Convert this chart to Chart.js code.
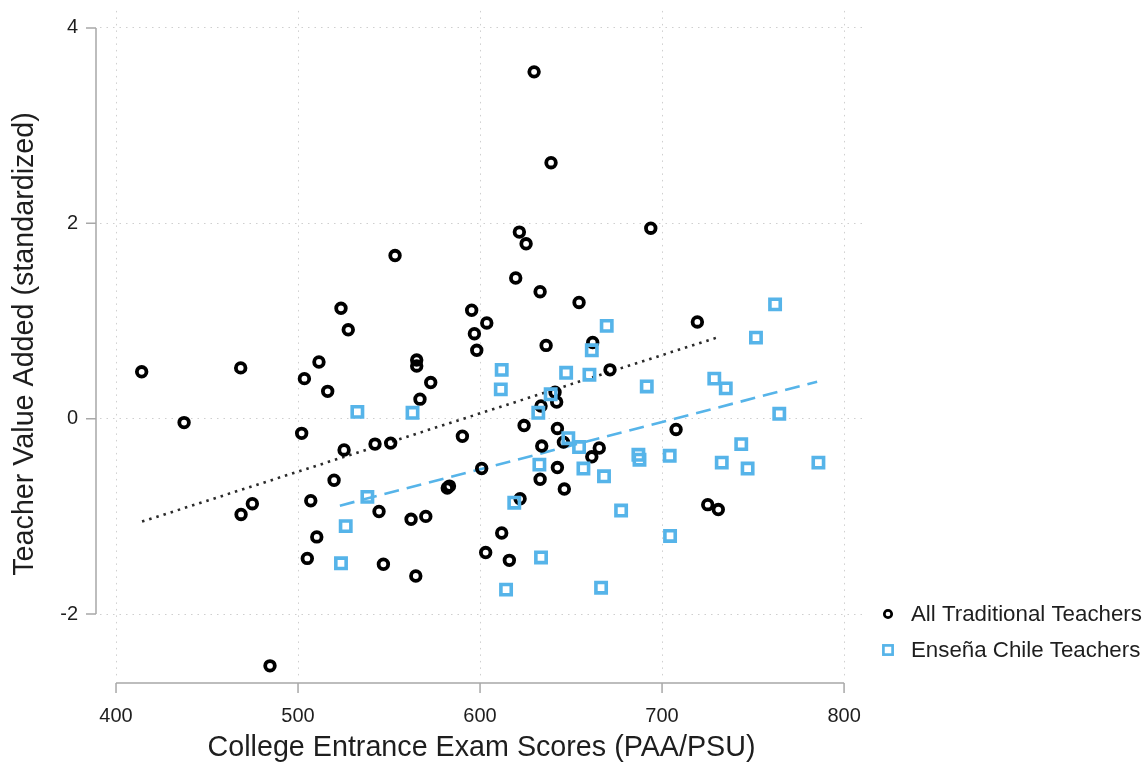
<!DOCTYPE html>
<html>
<head>
<meta charset="utf-8">
<script src="https://cdn.jsdelivr.net/npm/chart.js@4/dist/chart.umd.min.js"></script>
<style>
  html, body { margin: 0; padding: 0; background: #fff; }
  #wrap { position: relative; width: 1148px; height: 767px; }
</style>
</head>
<body>
<div id="wrap"><canvas id="c" width="1148" height="767"></canvas></div>
<script>
// Exam score (x) and standardized value added (y) per teacher
const traditionalX = [414.1, 437.4, 468.5, 468.7, 474.9, 484.6, 502.0, 503.5, 505.1, 507.0,
  510.3, 511.5, 516.3, 519.8, 523.6, 525.3, 527.6, 542.3, 544.5, 546.9,
  550.9, 553.3, 562.1, 565.2, 565.2, 564.7, 567.0, 570.2, 572.9, 582.0,
  583.2, 590.3, 595.4, 596.9, 598.2, 600.9, 603.1, 603.7, 611.9, 616.1,
  619.6, 621.6, 622.0, 624.2, 625.3, 629.7, 633.0, 633.0, 633.9, 633.5,
  636.3, 639.0, 641.2, 642.1, 642.5, 642.5, 645.8, 646.3, 654.4, 661.4,
  661.9, 665.5, 671.4, 693.8, 707.7, 719.4, 725.1, 730.9];
const traditionalY = [0.48, -0.04, 0.52, -0.98, -0.87, -2.53, -0.15, 0.41, -1.43, -0.84,
  -1.21, 0.58, 0.28, -0.63, 1.13, -0.32, 0.91, -0.26, -0.95, -1.49,
  -0.25, 1.67, -1.03, 0.60, 0.54, -1.61, 0.20, -1.00, 0.37, -0.71,
  -0.69, -0.18, 1.11, 0.87, 0.70, -0.51, -1.37, 0.98, -1.17, -1.45,
  1.44, 1.91, -0.82, -0.07, 1.79, 3.55, -0.62, 1.30, -0.28, 0.13,
  0.75, 2.62, 0.27, 0.17, -0.10, -0.50, -0.24, -0.72, 1.19, -0.39,
  0.78, -0.30, 0.50, 1.95, -0.11, 0.99, -0.88, -0.93];

const enseniaX = [611.9, 611.4, 669.6, 661.4, 647.3, 660.1, 638.8, 632.0, 691.6, 728.7,
  735.0, 751.6, 762.1, 764.4, 648.5, 654.4, 743.5, 785.9, 687.0, 687.6,
  704.2, 632.6, 656.8, 668.1, 732.8, 747.0, 618.8, 677.5, 704.4, 633.5,
  614.3, 666.5, 538.1, 526.2, 523.6, 532.6, 562.9];
const enseniaY = [0.50, 0.30, 0.95, 0.70, 0.47, 0.45, 0.25, 0.06, 0.33, 0.41,
  0.31, 0.83, 1.17, 0.05, -0.20, -0.29, -0.26, -0.45, -0.37, -0.42,
  -0.38, -0.47, -0.51, -0.59, -0.45, -0.51, -0.86, -0.94, -1.20, -1.42,
  -1.75, -1.73, -0.80, -1.10, -1.48, 0.07, 0.06];

// Linear fit endpoints for each group
const traditionalFitX = [414.3, 729.7];
const traditionalFitY = [-1.053, 0.828];
const enseniaFitX = [523.0, 785.2];
const enseniaFitY = [-0.89, 0.378];

const xTicks = [400, 500, 600, 700, 800];
const yTicks = [-2, 0, 2, 4];

const seriesNames = ['All Traditional Teachers', 'Enseña Chile Teachers'];
const xTitle = 'College Entrance Exam Scores (PAA/PSU)';
const yTitle = 'Teacher Value Added (standardized)';

const BLUE = '#56b4e9';
const INK = '#1e1e1e';
const FONT = '"Liberation Sans", Arial, sans-serif';

const zip = (xs, ys) => xs.map((x, i) => ({ x: x, y: ys[i] }));

// Range axes (only spanning the tick range) plus the side legend
const frame = {
  id: 'frame',
  afterDraw(chart) {
    const ctx = chart.ctx;
    const xs = chart.scales.x, ys = chart.scales.y;
    ctx.save();
    ctx.strokeStyle = '#a8a8a8';
    ctx.lineWidth = 1.5;
    ctx.setLineDash([]);
    // y axis
    const ax = 96;
    ctx.beginPath();
    ctx.moveTo(ax, ys.getPixelForValue(yTicks[yTicks.length - 1]));
    ctx.lineTo(ax, ys.getPixelForValue(yTicks[0]));
    yTicks.forEach(v => {
      const p = ys.getPixelForValue(v);
      ctx.moveTo(ax - 10, p);
      ctx.lineTo(ax, p);
    });
    ctx.stroke();
    // x axis
    const ay = 683;
    ctx.beginPath();
    ctx.moveTo(xs.getPixelForValue(xTicks[0]), ay);
    ctx.lineTo(xs.getPixelForValue(xTicks[xTicks.length - 1]), ay);
    xTicks.forEach(v => {
      const p = xs.getPixelForValue(v);
      ctx.moveTo(p, ay);
      ctx.lineTo(p, ay + 10);
    });
    ctx.stroke();

    // legend
    const lx = 888;
    const rows = [614, 650];
    ctx.lineWidth = 2.7;
    ctx.strokeStyle = '#000';
    ctx.beginPath();
    ctx.arc(lx, rows[0], 3.7, 0, Math.PI * 2);
    ctx.stroke();
    ctx.strokeStyle = BLUE;
    ctx.strokeRect(lx - 4.6, rows[1] - 4.6, 9.2, 9.2);
    ctx.fillStyle = INK;
    ctx.font = '22.3px ' + FONT;
    ctx.textBaseline = 'middle';
    ctx.textAlign = 'left';
    seriesNames.forEach((name, i) => ctx.fillText(name, 911, rows[i] + 1));
    ctx.restore();
  }
};

new Chart(document.getElementById('c'), {
  type: 'scatter',
  data: {
    datasets: [
      {
        label: seriesNames[0] + ' fit',
        type: 'line',
        data: zip(traditionalFitX, traditionalFitY),
        borderColor: '#2a2a2a',
        borderWidth: 2.6,
        borderDash: [2.5, 5],
        pointRadius: 0,
        fill: false,
        order: 3
      },
      {
        label: seriesNames[1] + ' fit',
        type: 'line',
        data: zip(enseniaFitX, enseniaFitY),
        borderColor: BLUE,
        borderWidth: 2.6,
        borderDash: [15, 8],
        pointRadius: 0,
        fill: false,
        order: 3
      },
      {
        label: seriesNames[0],
        data: zip(traditionalX, traditionalY),
        pointStyle: 'circle',
        pointRadius: 4.8,
        borderWidth: 3.8,
        borderColor: '#000',
        backgroundColor: 'rgba(255,255,255,0)',
        order: 2
      },
      {
        label: seriesNames[1],
        data: zip(enseniaX, enseniaY),
        pointStyle: 'rect',
        pointRadius: 7.3,
        borderWidth: 3.6,
        borderColor: BLUE,
        backgroundColor: 'rgba(255,255,255,0)',
        order: 1
      }
    ]
  },
  options: {
    responsive: false,
    animation: false,
    events: [],
    layout: { padding: { left: 0, right: 285, top: 10, bottom: 0 } },
    plugins: { legend: { display: false }, tooltip: { enabled: false } },
    scales: {
      x: {
        type: 'linear',
        min: 391.2,
        max: 810.4,
        afterBuildTicks: s => { s.ticks = xTicks.map(v => ({ value: v })); },
        afterFit: s => { s.height = 90; s.paddingLeft = 0; s.paddingRight = 0; },
        grid: { color: '#cfcfcf', lineWidth: 1, drawTicks: false },
        border: { display: false, dash: [1.5, 5] },
        ticks: { padding: 27, color: INK, font: { family: FONT, size: 20 } },
        title: { display: true, text: xTitle, color: INK, font: { family: FONT, size: 28.7 }, padding: { top: 2, bottom: 2 } }
      },
      y: {
        type: 'linear',
        min: -2.644,
        max: 4.174,
        afterBuildTicks: s => { s.ticks = yTicks.map(v => ({ value: v })); },
        afterFit: s => { s.width = 100; s.paddingTop = 0; s.paddingBottom = 0; },
        grid: { color: '#cfcfcf', lineWidth: 1, drawTicks: false },
        border: { display: false, dash: [1.5, 5] },
        ticks: { padding: 22, color: INK, font: { family: FONT, size: 20 } },
        title: { display: true, text: yTitle, color: INK, font: { family: FONT, size: 28.7 }, padding: { top: 8, bottom: 0 } }
      }
    }
  },
  plugins: [frame]
});
</script>
</body>
</html>
